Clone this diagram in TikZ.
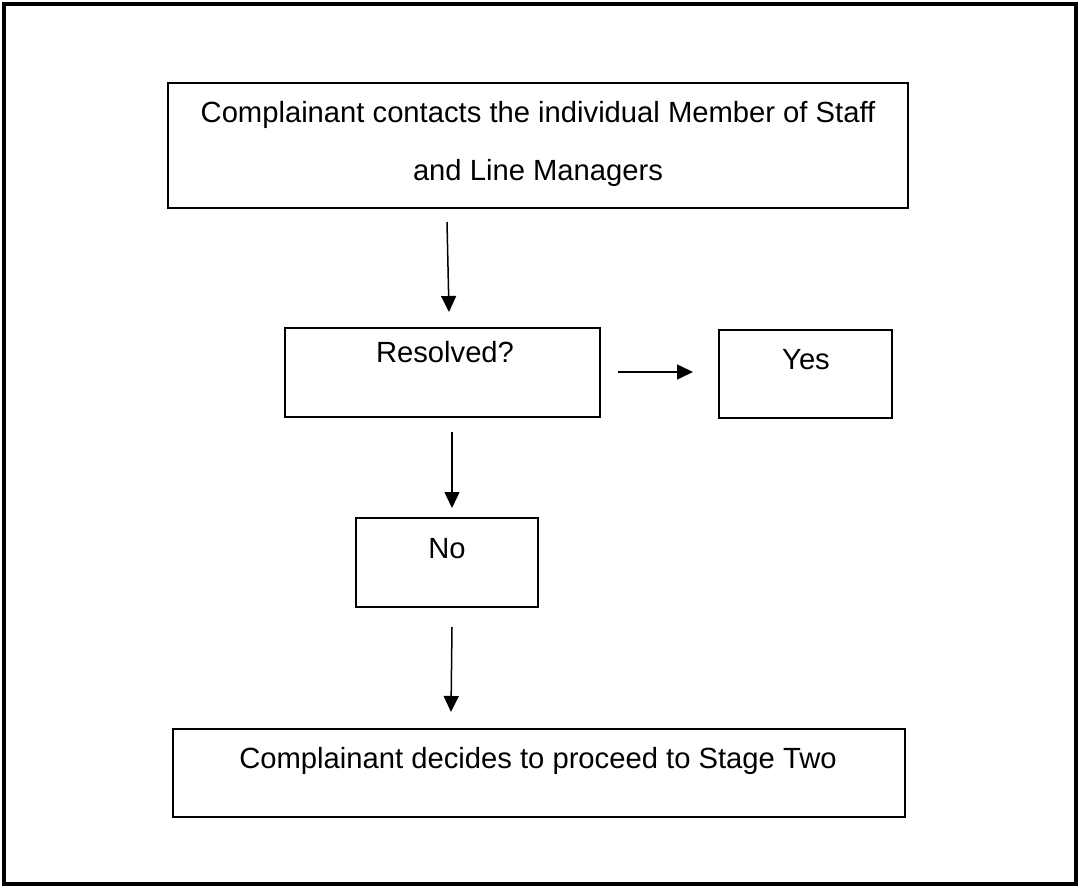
\documentclass[tikz,border=0pt]{standalone}
\usepackage{fontspec}
\setmainfont{Liberation Sans}
\usetikzlibrary{arrows.meta}
\begin{document}
\begin{tikzpicture}[x=1pt,y=-1pt,
    box/.style={draw,line width=1.8pt,inner sep=0pt},
    txt/.style={font=\fontsize{29.2}{58}\selectfont,inner sep=0pt,anchor=base,align=center},
    arr/.style={line width=1.5pt,-{Triangle[length=16pt,width=15pt]}}]
      \useasboundingbox (0,0) rectangle (1079,886);
      \draw[line width=4pt] (4,4) rectangle (1076,883.5);
      \draw
        (538,145.5) node[box,minimum width=740pt,minimum height=125pt] (staff){}
        (442.5,372.5) node[box,minimum width=315pt,minimum height=89pt] (res){}
        (805.5,374) node[box,minimum width=173pt,minimum height=88pt] (yes){}
        (447,562.5) node[box,minimum width=182pt,minimum height=89pt] (no){}
        (539,773) node[box,minimum width=732pt,minimum height=88pt] (stage){};
      \draw
        (538,180) node[txt] (staff-t){Complainant contacts the individual Member of Staff\\and Line Managers}
        (445,362) node[txt] (res-t){Resolved?}
        (806,369) node[txt] (yes-t){Yes}
        (447,558) node[txt] (no-t){No}
        (538,768) node[txt] (stage-t){Complainant decides to proceed to Stage Two};
      \coordinate (a1) at (447,222);
      \coordinate (b1) at (449,312);
      \coordinate (a2) at (452,432);
      \coordinate (b2) at (452,508);
      \coordinate (a3) at (452,627);
      \coordinate (b3) at (451,712);
      \coordinate (a4) at (618,372);
      \coordinate (b4) at (693,372);
      \begin{scope}[arr]
        \draw (a1) to (b1);
        \draw (a2) to (b2);
        \draw (a3) to (b3);
        \draw (a4) to (b4);
      \end{scope}
    \end{tikzpicture}
\end{document}
